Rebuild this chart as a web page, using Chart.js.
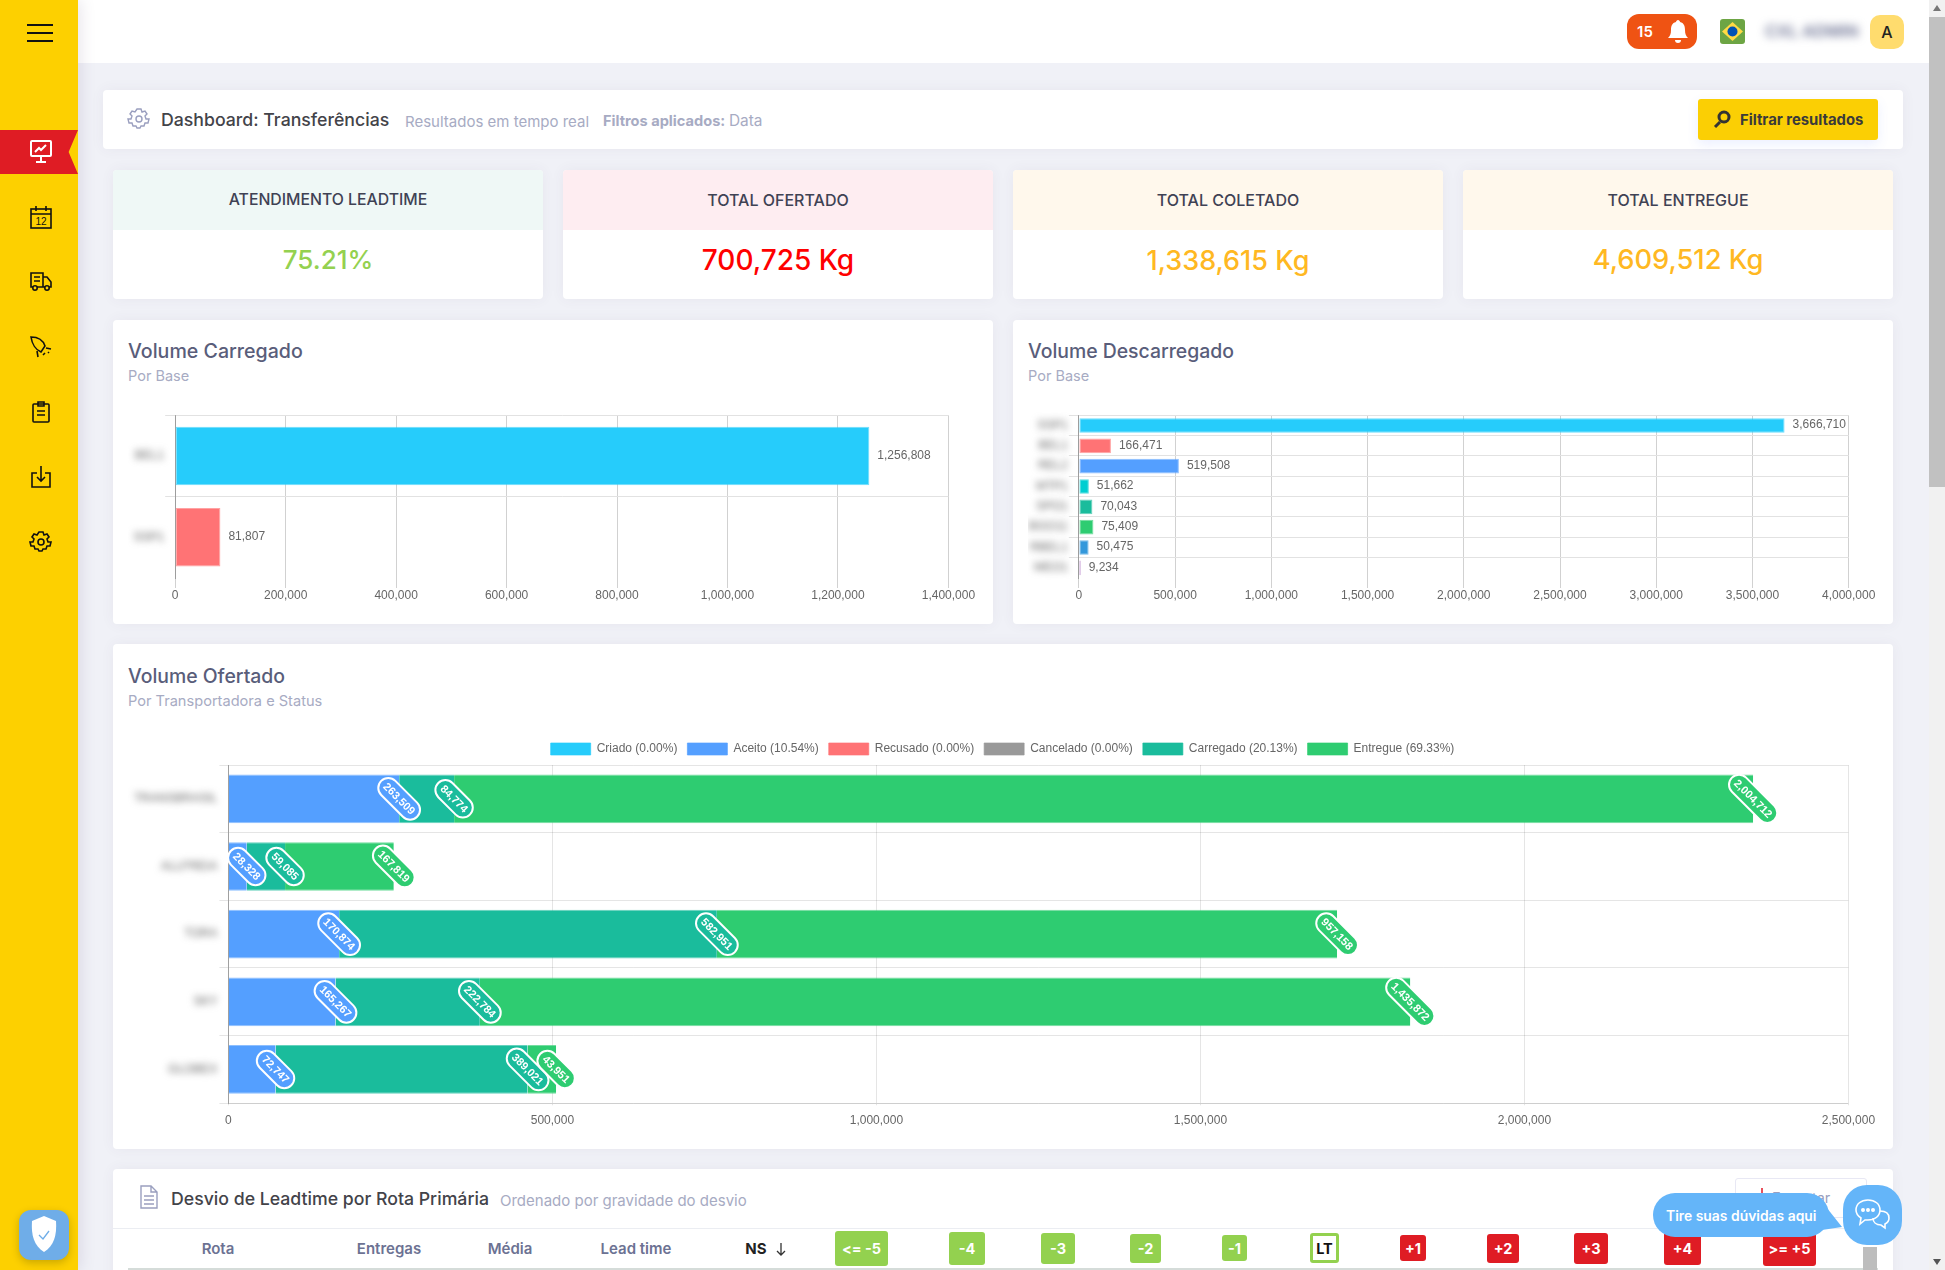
<!DOCTYPE html>
<html>
<head>
<meta charset="utf-8">
<title>Dashboard: Transferências</title>
<script src="https://cdn.jsdelivr.net/npm/chart.js@4"></script>
<style>
html,body{margin:0;padding:0;width:1945px;height:1270px;overflow:hidden;background:#f0f1f7;font-family:Inter,"Noto Sans",sans-serif;}
.a{position:absolute;white-space:nowrap;}
.t{position:absolute;white-space:nowrap;transform:translateY(-50%);line-height:1;}
.c{transform:translate(-50%,-50%);}
.card{position:absolute;background:#fff;border-radius:4px;box-shadow:0 0 14px rgba(82,63,105,.06);overflow:hidden;}
.stat-h{position:absolute;left:0;right:0;top:0;height:60px;}
.badge{position:absolute;display:flex;align-items:center;justify-content:center;color:#fff;font-weight:700;font-size:14.5px;border-radius:3px;}
.g{background:#93d14f}.r{background:#df1c24}
.th{position:absolute;top:1248px;transform:translate(-50%,-50%);font-size:15px;font-weight:600;color:#6c7293;white-space:nowrap;}
svg{position:absolute;overflow:visible;}
canvas{position:absolute;}
</style>
</head>
<body>

<!-- topbar -->
<div class="a" style="left:78px;top:0;width:1851px;height:63px;background:#fff"></div>

<!-- sidebar -->
<div class="a" style="left:0;top:0;width:78px;height:1270px;background:#fdd000;box-shadow:3px 0 14px rgba(82,63,105,.13)"></div>
<div class="a" style="left:27px;top:24px;width:26px;height:2px;background:#111"></div>
<div class="a" style="left:27px;top:32px;width:26px;height:2px;background:#111"></div>
<div class="a" style="left:27px;top:40px;width:26px;height:2px;background:#111"></div>
<div class="a" style="left:0;top:130px;width:78px;height:44px;background:#df1c24;clip-path:polygon(0 0,100% 0,88% 50%,100% 100%,0 100%)"></div>

<svg style="left:30px;top:140px" width="22" height="24" fill="none" stroke="#fff" stroke-width="2"><rect x="1" y="1" width="20" height="15" rx="1"/><path d="M5 12l4-4 2 2 5-5M11 16v5M6 22h10"/></svg>
<svg style="left:30px;top:206px" width="22" height="23" fill="none" stroke="#111" stroke-width="1.6"><rect x="1" y="3" width="20" height="19"/><path d="M1 8h20M6 0v5M16 0v5"/><text x="11" y="19" font-size="10" font-family="Liberation Sans" fill="#111" stroke="none" text-anchor="middle">12</text></svg>
<svg style="left:30px;top:272px" width="22" height="20" fill="none" stroke="#111" stroke-width="1.6"><path d="M3 15H1V1h12v14H7M13 5h4l4 5v5h-2M13 15h2M4 5h6M4 9h6"/><circle cx="5" cy="16" r="2.2"/><circle cx="17" cy="16" r="2.2"/></svg>
<svg style="left:30px;top:336px" width="22" height="22" fill="none" stroke="#111" stroke-width="1.6"><path d="M1 1c7 0 12 3 14 9l-4 6C6 14 2 8 1 1zM7 15l1 6M16 12l5 1M13 19l2-2M18 17l1-1"/></svg>
<svg style="left:32px;top:401px" width="18" height="22" fill="none" stroke="#111" stroke-width="1.6"><rect x="1" y="3" width="16" height="18" rx="1"/><path d="M6 1h6v4H6zM5 10h8M5 14h8"/></svg>
<svg style="left:31px;top:466px" width="20" height="22" fill="none" stroke="#111" stroke-width="1.6"><path d="M6 7H1v14h18V7h-5M10 0v15M6 11l4 4 4-4"/></svg>
<svg style="left:30px;top:531px" width="22" height="22" fill="none" stroke="#111" stroke-width="1.6"><circle cx="11" cy="11" r="3"/><path d="M9 1h4l1 3 3-1 2 3-2 2 1 3 3 0v0l-1 4-3 0-1 3-3 0-1 2h-3l-1-2-3 0-1-3-3 0-1-4 3-0 1-3-2-2 2-3 3 1z"/></svg>

<div class="a" style="left:19px;top:1210px;width:50px;height:50px;border-radius:12px;background:#6fade8;box-shadow:0 3px 8px rgba(0,0,0,.2)"></div>
<svg style="left:29px;top:1216px" width="30" height="38"><path d="M15 0l12 5c1 14-2 25-12 31C5 30 2 19 3 5z" fill="#fff"/><path d="M10 19l4 4 6-8" fill="none" stroke="#6fade8" stroke-width="1.3"/></svg>

<!-- top right -->
<div class="a" style="left:1627px;top:14px;width:70px;height:35px;background:#ef5313;border-radius:12px"></div>
<div class="t" style="left:1645px;top:31px;transform:translate(-50%,-50%);color:#fff;font-size:15px;font-weight:600">15</div>
<svg style="left:1668px;top:20px" width="20" height="23"><path d="M10 0c1 0 2 1 2 2 4 1 5 4 5 8 0 4 1 6 3 8H0c2-2 3-4 3-8 0-4 1-7 5-8 0-1 1-2 2-2zM7 20h6c0 2-1 3-3 3s-3-1-3-3z" fill="#fff"/></svg>
<div class="a" style="left:1720px;top:19px;width:25px;height:25px;background:#6da544;border-radius:3px"></div>
<svg style="left:1720px;top:19px" width="25" height="25"><path d="M12.5 3L23 12.5 12.5 22 2 12.5z" fill="#ffda44"/><circle cx="12.5" cy="12.5" r="5" fill="#0052b4"/></svg>
<div class="t" style="left:1765px;top:31px;font-size:16.5px;font-weight:600;color:#6c7293;filter:blur(4px)">CXL ADMIN</div>
<div class="a" style="left:1870px;top:15px;width:34px;height:34px;background:#ffdc6e;border-radius:10px"></div>
<div class="t" style="left:1887px;top:32px;transform:translate(-50%,-50%);font-size:16px;font-weight:500;color:#222">A</div>

<!-- scrollbar -->
<div class="a" style="left:1929px;top:0;width:16px;height:1270px;background:#f1f1f1"></div>
<div class="a" style="left:1929px;top:17px;width:16px;height:470px;background:#c1c1c1"></div>
<svg style="left:1933px;top:5px" width="8" height="6"><path d="M4 0l4 6H0z" fill="#777"/></svg>
<svg style="left:1933px;top:1259px" width="8" height="6"><path d="M0 0h8L4 6z" fill="#555"/></svg>

<!-- header card -->
<div class="card" style="left:103px;top:90px;width:1800px;height:59px"></div>
<svg style="left:128px;top:108px" width="22" height="22" fill="none" stroke="#9a9fbf" stroke-width="1.4"><circle cx="11" cy="11" r="3"/><path d="M9 1h4l1 3 3-1 2 3-2 2 1 3 3 0v0l-1 4-3 0-1 3-3 0-1 2h-3l-1-2-3 0-1-3-3 0-1-4 3-0 1-3-2-2 2-3 3 1z"/></svg>
<div class="t" style="left:161px;top:119.5px;font-size:17.7px;font-weight:500;color:#434349">Dashboard: Transferências</div>
<div class="t" style="left:405px;top:120.5px;font-size:15px;color:#a7abc3">Resultados em tempo real</div>
<div class="t" style="left:603px;top:120.5px;font-size:14.6px;font-weight:700;color:#a7abc3">Filtros aplicados:</div>
<div class="t" style="left:729px;top:120.5px;font-size:15.4px;color:#a7abc3">Data</div>
<div class="a" style="left:1698px;top:99px;width:180px;height:41px;background:#fbcf04;border-radius:3px;box-shadow:0 4px 12px rgba(90,120,255,.12)"></div>
<svg style="left:1713px;top:110px" width="18" height="19" fill="none" stroke="#333" stroke-width="3"><circle cx="11" cy="7" r="5"/><path d="M7 12l-5 5"/></svg>
<div class="t" style="left:1740px;top:120px;font-size:14.8px;font-weight:700;color:#3a3a3a">Filtrar resultados</div>

<!-- stat cards -->
<div class="card" style="left:113px;top:170px;width:430px;height:129px"><div class="stat-h" style="background:#eff8f6"></div></div>
<div class="card" style="left:563px;top:170px;width:430px;height:129px"><div class="stat-h" style="background:#feedf1"></div></div>
<div class="card" style="left:1013px;top:170px;width:430px;height:129px"><div class="stat-h" style="background:#fff8ec"></div></div>
<div class="card" style="left:1463px;top:170px;width:430px;height:129px"><div class="stat-h" style="background:#fff8ec"></div></div>
<div class="t c" style="left:328px;top:200px;font-size:15.8px;font-weight:500;color:#3f4254">ATENDIMENTO LEADTIME</div>
<div class="t c" style="left:778px;top:200px;font-size:16px;font-weight:500;color:#3f4254">TOTAL OFERTADO</div>
<div class="t c" style="left:1228px;top:200px;font-size:16px;font-weight:500;color:#3f4254">TOTAL COLETADO</div>
<div class="t c" style="left:1678px;top:200px;font-size:16px;font-weight:500;color:#3f4254">TOTAL ENTREGUE</div>
<div class="t c" style="left:328px;top:260px;font-size:26px;font-weight:500;color:#94d150">75.21%</div>
<div class="t c" style="left:778px;top:260px;font-size:28px;font-weight:500;color:#ff0000">700,725 Kg</div>
<div class="t c" style="left:1228px;top:260px;font-size:27px;font-weight:500;color:#ffb822">1,338,615 Kg</div>
<div class="t c" style="left:1678px;top:260px;font-size:27.3px;font-weight:500;color:#ffb822">4,609,512 Kg</div>

<!-- chart cards -->
<div class="card" style="left:113px;top:320px;width:880px;height:304px"></div>
<div class="card" style="left:1013px;top:320px;width:880px;height:304px"></div>
<div class="card" style="left:113px;top:644px;width:1780px;height:505px"></div>
<div class="t" style="left:128px;top:352px;font-size:19.6px;font-weight:500;color:#595d7a">Volume Carregado</div>
<div class="t" style="left:128px;top:375.5px;font-size:14.5px;color:#a7abc3">Por Base</div>
<div class="t" style="left:1028px;top:352px;font-size:19.4px;font-weight:500;color:#595d7a">Volume Descarregado</div>
<div class="t" style="left:1028px;top:375.5px;font-size:14.5px;color:#a7abc3">Por Base</div>
<div class="t" style="left:128px;top:677px;font-size:19.4px;font-weight:500;color:#595d7a">Volume Ofertado</div>
<div class="t" style="left:128px;top:700.5px;font-size:14.6px;color:#a7abc3">Por Transportadora e Status</div>

<canvas id="chartCarregado" width="850" height="205" style="left:128px;top:405px"></canvas>
<canvas id="chartDescarregado" width="850" height="205" style="left:1028px;top:405px"></canvas>
<canvas id="chartOfertado" width="1780" height="400" style="left:128px;top:733px"></canvas>

<!-- table card -->
<div class="card" style="left:113px;top:1169px;width:1780px;height:120px"></div>
<svg style="left:140px;top:1185px" width="18" height="24" fill="none" stroke="#9a9fbf" stroke-width="1.4"><path d="M1 1h10l6 6v16H1zM11 1v6h6M4 11h10M4 15h10M4 19h10"/></svg>
<div class="t" style="left:171px;top:1198.5px;font-size:17.7px;font-weight:500;color:#434349">Desvio de Leadtime por Rota Primária</div>
<div class="t" style="left:500px;top:1199.5px;font-size:15px;color:#a7abc3">Ordenado por gravidade do desvio</div>
<div class="a" style="left:1735px;top:1178px;width:132px;height:40px;border:1px solid #e8e8f4;border-radius:3px;box-sizing:border-box"></div>
<div class="a" style="left:1761px;top:1188px;width:2px;height:6px;background:#e8505b"></div>
<div class="t" style="left:1772px;top:1198px;font-size:14.5px;color:#9a9fbf">Exportar</div>
<div class="a" style="left:113px;top:1228px;width:1780px;height:1px;background:#ebedf2"></div>
<div class="a" style="left:128px;top:1268px;width:1750px;height:2px;background:#d5dcd9"></div>
<div class="th" style="left:218px">Rota</div>
<div class="th" style="left:389px">Entregas</div>
<div class="th" style="left:510px">Média</div>
<div class="th" style="left:636px">Lead time</div>
<div class="th" style="left:756px;color:#222;font-weight:700">NS</div>
<svg style="left:776px;top:1243px" width="10" height="13" fill="none" stroke="#333" stroke-width="1.3"><path d="M5 0v12M1 8l4 4 4-4"/></svg>
<div class="badge g" style="left:835px;top:1231px;width:53px;height:35px">&lt;= -5</div>
<div class="badge g" style="left:949px;top:1232px;width:36px;height:33px">-4</div>
<div class="badge g" style="left:1041px;top:1233px;width:34px;height:31px">-3</div>
<div class="badge g" style="left:1130px;top:1234px;width:31px;height:29px">-2</div>
<div class="badge g" style="left:1222px;top:1235px;width:25px;height:26px">-1</div>
<div class="badge" style="left:1310px;top:1233px;width:29px;height:30px;box-sizing:border-box;border:3px solid #93d14f;background:#fff;color:#111">LT</div>
<div class="badge r" style="left:1400px;top:1235px;width:26px;height:26px">+1</div>
<div class="badge r" style="left:1487px;top:1234px;width:32px;height:29px">+2</div>
<div class="badge r" style="left:1574px;top:1233px;width:34px;height:31px">+3</div>
<div class="badge r" style="left:1664px;top:1232px;width:37px;height:33px">+4</div>
<div class="badge r" style="left:1763px;top:1231px;width:53px;height:35px">&gt;= +5</div>
<div class="a" style="left:1863px;top:1247px;width:14px;height:23px;background:#bdbdbd"></div>

<!-- chat -->
<div class="a" style="left:1653px;top:1193px;width:176px;height:44px;background:#64b5f9;border-radius:22px"></div>
<svg style="left:1815px;top:1195px" width="28" height="34"><path d="M8 8L27 32 0 36z" fill="#64b5f9"/></svg>
<div class="t" style="left:1666px;top:1217px;font-size:13.9px;font-weight:600;color:#fff">Tire suas dúvidas aqui</div>
<div class="a" style="left:1843px;top:1185px;width:59px;height:60px;background:#64b5f9;border-radius:24px"></div>
<svg style="left:1855px;top:1199px" width="36" height="32" fill="none" stroke="#fff" stroke-width="1.6"><path d="M13 1c7 0 12 4 12 10S20 21 13 21c-1 0-2 0-3-0L5 25l1-6C3 17 1 14 1 11 1 5 6 1 13 1z"/><path d="M25 12c5 0 9 2 9 7 0 3-2 5-4 6l0 4-4-3c-5 0-8-3-8-7"/><circle cx="8" cy="11" r="1.2" fill="#fff"/><circle cx="13" cy="11" r="1.2" fill="#fff"/><circle cx="18" cy="11" r="1.2" fill="#fff"/></svg>

<script>
// Base names are blurred in the screenshot, so these strings are only placeholders of similar length
var carregadoBases = ["BEL1", "SSP1"];
var carregadoValues = [1256808, 81807];
var carregadoColors = ["#26ccfb", "#ff7375"];

var descarregadoBases = ["SSP1", "BEL1", "REL2", "MTP1", "SPO1", "BGO11", "RBEL1", "MEO1"];
var descarregadoValues = [3666710, 166471, 519508, 51662, 70043, 75409, 50475, 9234];
var descarregadoColors = ["#26ccfb", "#ff7375", "#549fff", "#00ced1", "#1abc9c", "#2ecc71", "#3498db", "#9b59b6"];

var transportadoras = ["TRANSBRASIL", "ALLFREIA", "TORA", "SKY", "GLOBEX"];
var criado = [0, 0, 0, 0, 0];
var aceito = [263509, 28328, 170874, 165267, 72747];
var recusado = [0, 0, 0, 0, 0];
var cancelado = [0, 0, 0, 0, 0];
var carregado = [84774, 59085, 582951, 222784, 389021];
var entregue = [2004712, 167819, 957158, 1435872, 43951];

Chart.defaults.font.family = '"Liberation Sans", Arial, sans-serif';
Chart.defaults.font.size = 12;
Chart.defaults.color = '#666';
Chart.defaults.animation = false;

function fmt(v) { return Number(v).toLocaleString('en-US'); }

// blurred category names, the real labels stay hidden
var blurLabels = {
	id: 'blurLabels',
	afterDraw: function (chart) {
		var ctx = chart.ctx, y = chart.scales.y;
		ctx.save();
		ctx.filter = 'blur(3.5px)';
		ctx.font = '12px "Liberation Sans"';
		ctx.fillStyle = '#666';
		ctx.textAlign = 'right';
		ctx.textBaseline = 'middle';
		y.getLabels().forEach(function (name, i) {
			ctx.fillText(name, chart.chartArea.left - 11, y.getPixelForValue(i));
		});
		ctx.restore();
	}
};

// value next to the end of each bar
var endValues = {
	id: 'endValues',
	afterDatasetsDraw: function (chart) {
		var ctx = chart.ctx, meta = chart.getDatasetMeta(0), values = chart.data.datasets[0].data;
		ctx.save();
		ctx.font = '12px "Liberation Sans"';
		ctx.fillStyle = '#666';
		ctx.textBaseline = 'middle';
		meta.data.forEach(function (bar, i) {
			ctx.fillText(fmt(values[i]), bar.x + 8, bar.y - 0.5);
		});
		ctx.restore();
	}
};

// rotated pills on the stacked bars
var pillLabels = {
	id: 'pillLabels',
	afterDatasetsDraw: function (chart) {
		var ctx = chart.ctx;
		chart.data.datasets.forEach(function (ds, d) {
			chart.getDatasetMeta(d).data.forEach(function (bar, i) {
				if (!ds.data[i]) return;
				var text = fmt(ds.data[i]);
				ctx.save();
				ctx.font = 'bold 11px "Liberation Sans"';
				var w = ctx.measureText(text).width + 11, h = 20;
				ctx.translate(bar.x, bar.y);
				ctx.rotate(Math.PI / 4);
				ctx.beginPath();
				ctx.roundRect(-w / 2, -h / 2, w, h, 10);
				ctx.fillStyle = ds.backgroundColor;
				ctx.fill();
				ctx.lineWidth = 2;
				ctx.strokeStyle = '#fff';
				ctx.stroke();
				ctx.fillStyle = '#fff';
				ctx.textAlign = 'center';
				ctx.textBaseline = 'middle';
				ctx.fillText(text, 0, 0.5);
				ctx.restore();
			});
		});
	}
};

function lastLineOff(color) {
	return function (c) { return c.index === undefined ? 'transparent' : color; };
}

function baseChart(id, names, values, colors, max, step, yWidth, padRight) {
	return new Chart(document.getElementById(id).getContext('2d'), {
		type: 'bar',
		data: {
			labels: names,
			datasets: [{
				data: values,
				backgroundColor: colors,
				borderColor: colors.map(function (c) { return c + 'aa'; }),
				borderWidth: 1,
				borderSkipped: false
			}]
		},
		options: {
			indexAxis: 'y',
			responsive: false,
			layout: { padding: { top: 10.3, right: padRight, left: 0, bottom: 0 } },
			plugins: { legend: { display: false }, tooltip: { enabled: false } },
			scales: {
				x: {
					min: 0, max: max,
					ticks: { stepSize: step, callback: fmt, maxRotation: 0, padding: 0 },
					grid: { color: 'rgba(0,0,0,0.18)', tickLength: 10 },
					border: { display: false },
					afterFit: function (s) { s.height = 32; s.paddingLeft = 0; s.paddingRight = 0; }
				},
				y: {
					ticks: { display: false },
					grid: { color: lastLineOff('#e2e2e2'), tickLength: 10 },
					border: { color: 'rgba(0,0,0,0.25)' },
					afterFit: function (s) { s.width = yWidth; }
				}
			}
		},
		plugins: [blurLabels, endValues]
	});
}

baseChart('chartCarregado', carregadoBases, carregadoValues, carregadoColors, 1400000, 200000, 47.2, 29.6);
baseChart('chartDescarregado', descarregadoBases, descarregadoValues, descarregadoColors, 4000000, 500000, 50.9, 29.3);

function statusSet(label, values, color) {
	return {
		label: label, data: values, backgroundColor: color, borderColor: color + 'aa',
		borderWidth: { top: 1, bottom: 1, left: 0, right: 0 }, borderSkipped: false
	};
}

new Chart(document.getElementById('chartOfertado').getContext('2d'), {
	type: 'bar',
	data: {
		labels: transportadoras,
		datasets: [
			statusSet('Criado (0.00%)', criado, '#26ccfb'),
			statusSet('Aceito (10.54%)', aceito, '#549fff'),
			statusSet('Recusado (0.00%)', recusado, '#ff7375'),
			statusSet('Cancelado (0.00%)', cancelado, '#999999'),
			statusSet('Carregado (20.13%)', carregado, '#1abc9c'),
			statusSet('Entregue (69.33%)', entregue, '#2ecc71')
		]
	},
	options: {
		indexAxis: 'y',
		responsive: false,
		// left padding keeps the legend centred on the card, not on the plot
		layout: { padding: { top: 0, right: 59.6, left: 28.6, bottom: 0 } },
		plugins: {
			legend: {
				position: 'top', onClick: null,
				labels: {
					boxWidth: 40, boxHeight: 12, padding: 10,
					generateLabels: function (chart) {
						return Chart.defaults.plugins.legend.labels.generateLabels(chart).map(function (item) {
							item.lineWidth = 1;
							return item;
						});
					}
				}
			},
			tooltip: { enabled: false }
		},
		scales: {
			x: {
				stacked: true, min: 0, max: 2500000,
				ticks: { stepSize: 500000, callback: fmt, maxRotation: 0, padding: 8 },
				grid: { color: 'rgba(0,0,0,0.1)', tickLength: 2 },
				border: { color: 'rgba(0,0,0,0.1)' },
				afterFit: function (s) { s.height = 29.7; s.paddingLeft = 0; s.paddingRight = 0; }
			},
			y: {
				stacked: true,
				ticks: { display: false },
				grid: { color: 'rgba(0,0,0,0.1)', tickLength: 9 },
				border: { color: 'rgba(0,0,0,0.3)' },
				afterFit: function (s) { s.width = 71.8; }
			}
		}
	},
	plugins: [blurLabels, pillLabels]
});
</script>
</body>
</html>
